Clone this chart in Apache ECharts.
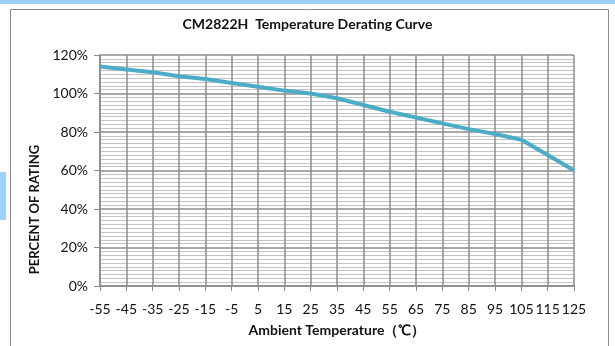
<!DOCTYPE html>
<html><head><meta charset="utf-8">
<script src="https://cdn.jsdelivr.net/npm/echarts@6/dist/echarts.min.js"></script>
<style>html,body{margin:0;padding:0;background:#fff}#c{width:615px;height:346px}</style>
</head><body><div id="c"></div>
<script>
const temperatures = ['-55','-45','-35','-25','-15','-5','5','15','25','35','45','55','65','75','85','95','105','115','125'];
const percentRating = [114, 112.5, 111, 109, 107.5, 105.5, 103.5, 101.5, 100, 97.5, 94, 90.5, 87.5, 84.5, 81.5, 79, 76, 68, 60];

const chart = echarts.init(document.getElementById('c'), null, {renderer: 'canvas'});
const FONT = 'Lato, "Open Sans", sans-serif';
chart.setOption({
  animation: false,
  backgroundColor: '#fff',
  graphic: [
    {type: 'rect', shape: {x: 0, y: 0, width: 615, height: 4}, style: {fill: '#9fd0ff'}, silent: true},
    {type: 'rect', shape: {x: 0, y: 172, width: 6, height: 48}, style: {fill: '#9fd0ff'}, silent: true},
    {type: 'rect', shape: {x: 10.5, y: 9.5, width: 598, height: 345}, style: {fill: 'none', stroke: '#8a8a8a', lineWidth: 1}, silent: true}
  ],
  title: {
    text: 'CM2822H  Temperature Derating Curve',
    left: 'center', top: 12,
    textStyle: {fontFamily: FONT, fontSize: 14, fontWeight: 'bold', color: '#111'}
  },
  grid: {left: 100, right: 41, top: 55, bottom: 60},
  xAxis: {
    type: 'category',
    data: temperatures,
    boundaryGap: false,
    name: 'Ambient Temperature（℃）',
    nameLocation: 'middle',
    nameGap: 37,
    nameTextStyle: {fontFamily: FONT, fontSize: 14, fontWeight: 'bold', color: '#111'},
    axisLine: {show: true, lineStyle: {color: '#888', width: 1.5}},
    axisTick: {show: true, alignWithLabel: true, length: 5, lineStyle: {color: '#888'}},
    axisLabel: {fontFamily: FONT, fontSize: 14, color: '#111', margin: 16, interval: 0},
    splitLine: {show: true, lineStyle: {color: '#8c8c8c', width: 1.5}}
  },
  yAxis: {
    type: 'value',
    min: 0, max: 120, interval: 20,
    name: 'PERCENT OF RATING',
    nameLocation: 'middle',
    nameGap: 57,
    nameTextStyle: {fontFamily: FONT, fontSize: 13, fontWeight: 'bold', color: '#111', padding: [0, 78, 0, 0]},
    axisLine: {show: true, lineStyle: {color: '#888', width: 1.5}},
    axisTick: {show: true, length: 6, lineStyle: {color: '#888'}},
    axisLabel: {fontFamily: FONT, fontSize: 14, color: '#111', margin: 12, formatter: '{value}%'},
    splitLine: {show: true, lineStyle: {color: '#8c8c8c', width: 1.5}},
    minorTick: {show: false, splitNumber: 10},
    minorSplitLine: {show: true, lineStyle: {color: '#c4c4c4', width: 1}}
  },
  series: [{
    type: 'line',
    data: percentRating,
    symbol: 'none',
    lineStyle: {color: '#4aacc6', width: 4},
    z: 5
  }]
});
</script></body></html>
